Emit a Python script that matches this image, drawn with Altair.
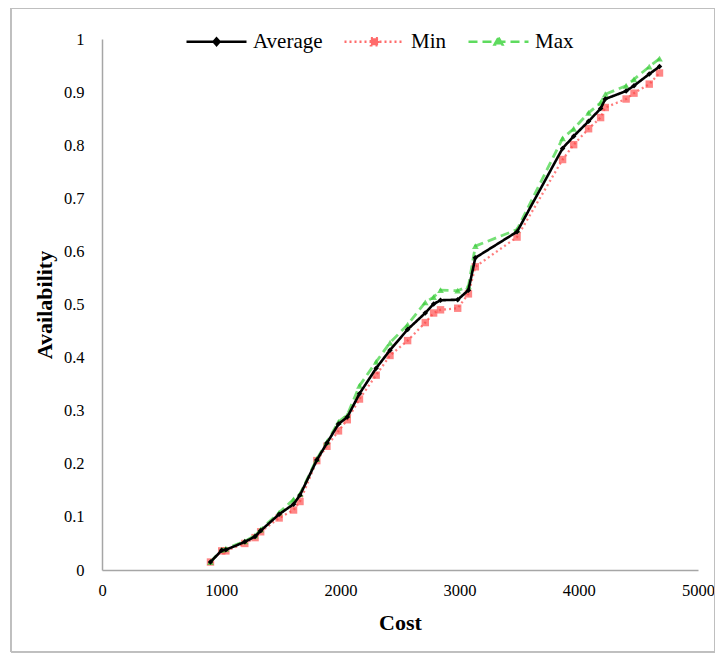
import altair as alt
import pandas as pd

cost = [910, 1004, 1039, 1198, 1284, 1331, 1486, 1607, 1661, 1802, 1887, 1984, 2058,
        2160, 2300, 2416, 2564, 2712, 2782, 2840, 2984, 3074, 3132, 3482, 3864, 3957,
        4082, 4183, 4222, 4397, 4463, 4591, 4677]
avg = [0.015, 0.037, 0.038, 0.053, 0.063, 0.074, 0.105, 0.124, 0.141, 0.207, 0.239,
       0.275, 0.288, 0.332, 0.380, 0.414, 0.453, 0.484, 0.501, 0.508, 0.509, 0.527,
       0.588, 0.637, 0.794, 0.817, 0.845, 0.869, 0.887, 0.902, 0.912, 0.934, 0.948]
mn = [0.015, 0.036, 0.036, 0.050, 0.061, 0.072, 0.098, 0.113, 0.129, 0.206, 0.233,
      0.262, 0.283, 0.322, 0.367, 0.404, 0.432, 0.466, 0.484, 0.490, 0.493, 0.520,
      0.571, 0.627, 0.773, 0.801, 0.831, 0.852, 0.871, 0.887, 0.898, 0.915, 0.936]
mx = [0.015, 0.038, 0.040, 0.054, 0.065, 0.076, 0.108, 0.133, 0.143, 0.209, 0.241,
      0.279, 0.292, 0.347, 0.392, 0.428, 0.462, 0.504, 0.514, 0.527, 0.526, 0.534,
      0.610, 0.641, 0.813, 0.831, 0.861, 0.880, 0.896, 0.912, 0.924, 0.948, 0.963]

names = ["Average", "Min", "Max"]
colors = ["#000000", "#FF6B6B", "#5EDB5E"]
dashes = [[1, 0], [2, 3], [9, 5]]
legend_paths = [
    "M-1,0L1,0M0,-0.11L0.1,0L0,0.11L-0.1,0Z",
    "M-1,0L1,0M-0.12,-0.12L0.12,-0.12L0.12,0.12L-0.12,0.12Z",
    "M-1,0L1,0M0,-0.14L0.13,0.09L-0.13,0.09Z",
]

rows = []
for name, vals in zip(names, [avg, mn, mx]):
    for c, v in zip(cost, vals):
        rows.append({"cost": c, "value": v, "series": name})
df = pd.DataFrame(rows)

FONT = "Liberation Serif"

xs = alt.X("cost:Q", title="Cost",
           scale=alt.Scale(domain=[0, 5000], nice=False),
           axis=alt.Axis(values=[0, 1000, 2000, 3000, 4000, 5000], format="d",
                         labelFlush=False, labelPadding=12, titlePadding=14))
ys = alt.Y("value:Q", title="Availability",
           scale=alt.Scale(domain=[0, 1], nice=False),
           axis=alt.Axis(values=[0, 0.1, 0.2, 0.3, 0.4, 0.5, 0.6, 0.7, 0.8, 0.9, 1],
                         format="~g", labelPadding=18, titlePadding=7))

base = alt.Chart(df)

def line_layer(name, color, dash, width, opacity):
    return base.transform_filter(alt.datum.series == name).mark_line(
        color=color, strokeDash=dash, strokeWidth=width, opacity=opacity
    ).encode(x=xs, y=ys, order="cost:Q")

def point_layer(name, color, shape, size, opacity):
    return base.transform_filter(alt.datum.series == name).mark_point(
        filled=True, color=color, shape=shape, size=size, opacity=opacity
    ).encode(x=xs, y=ys)

border = base.mark_rect(fill="transparent", stroke="#BFBFBF", strokeWidth=1).encode(
    x=alt.value(-91), x2=alt.value(612.5), y=alt.value(-30.5), y2=alt.value(613)
)

leg = base.transform_filter("false").mark_point(filled=False, strokeWidth=2.5, opacity=1).encode(
    x=xs, y=ys,
    stroke=alt.Stroke("series:N", scale=alt.Scale(domain=names, range=colors), title=None),
    fill=alt.Fill("series:N", scale=alt.Scale(domain=names, range=colors), title=None),
    strokeDash=alt.StrokeDash("series:N", scale=alt.Scale(domain=names, range=dashes), title=None),
    shape=alt.Shape("series:N", scale=alt.Scale(domain=names, range=legend_paths), title=None),
)

chart = alt.layer(
    border,
    line_layer("Min", "#FF7070", [2, 3], 2.3, 0.9),
    point_layer("Min", "#FF4545", "square", 55, 0.65),
    line_layer("Max", "#5EDB5E", [9, 5], 2.8, 0.85),
    point_layer("Max", "#3DCC3D", "triangle-up", 45, 0.75),
    line_layer("Average", "#000000", [1, 0], 2.6, 1),
    point_layer("Average", "#000000", "diamond", 30, 1),
    leg,
).properties(
    width=596, height=531,
    autosize=alt.AutoSizeParams(type="none"),
    padding={"left": 94, "top": 31, "right": 17, "bottom": 85},
).configure_view(stroke=None).configure_axis(
    domainColor="#A6A6A6", domainWidth=1.5, ticks=False, grid=False,
    labelFont=FONT, labelFontSize=16.5, labelColor="#000000",
    titleFont=FONT, titleFontSize=22, titleFontWeight="bold", titleColor="#000000",
).configure_legend(
    orient="none", legendX=83, legendY=-29, direction="horizontal",
    symbolSize=3600, symbolStrokeWidth=2.5, symbolOpacity=1,
    labelFont=FONT, labelFontSize=21, labelColor="#000000", labelOffset=5,
    columnPadding=16, padding=0, titlePadding=0,
)

chart.save("out.html", embed_options={"renderer": "svg", "actions": False})
